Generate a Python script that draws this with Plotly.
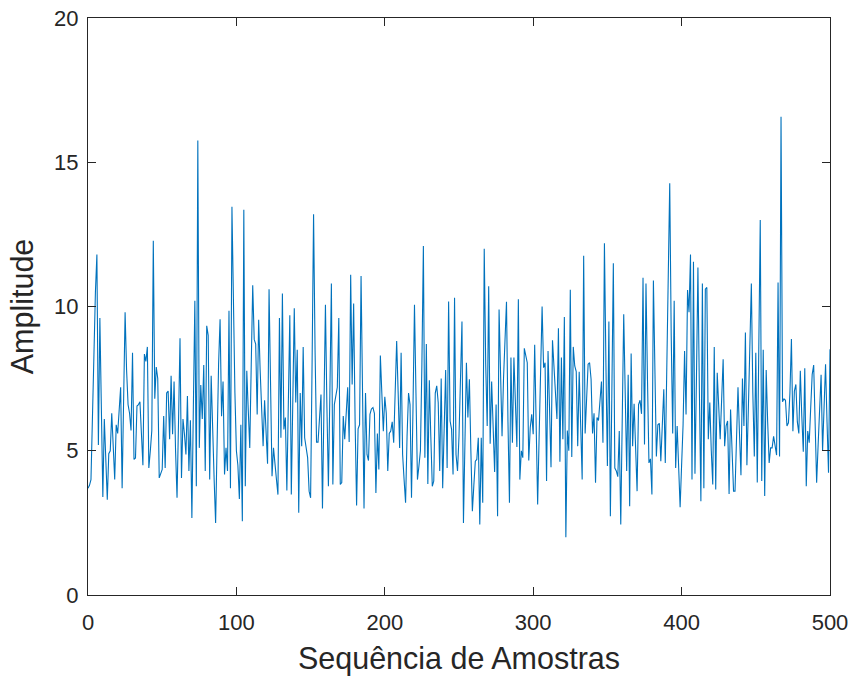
import plotly.graph_objects as go

# Amostras da sequência (índice 0..500) e respectivas amplitudes
amostras = list(range(0, 501))

amplitude = [
    # 0-40
    3.7, 3.8, 4.0, 6.5, 9.2, 10.5, 11.8, 5.2, 9.6, 6.5,
    3.4, 6.1, 4.6, 3.3, 4.9, 5.0, 6.3, 5.1, 4.0, 5.9,
    5.6, 6.4, 7.2, 3.7, 6.8, 9.8, 7.8, 6.6, 6.3, 5.7,
    8.4, 4.7, 4.75, 6.55, 6.6, 6.7, 5.6, 4.5, 8.35, 8.1,
    8.6,
    # 41-83
    4.4, 5.0, 5.7, 12.28, 6.8, 7.9, 7.5, 4.06, 4.2, 4.35,
    6.2, 4.4, 7.0, 7.07, 5.4, 7.6, 5.57, 7.4, 5.0, 3.37,
    6.0, 8.9, 4.06, 6.1, 5.57, 4.87, 6.9, 4.3, 6.06, 2.67,
    6.5, 10.2, 3.77, 15.75, 5.1, 7.28, 6.1, 7.97, 4.3, 9.33,
    9.0, 4.0, 7.6,
    # 84-125
    5.5, 4.0, 2.5, 6.0, 8.0, 9.56, 6.2, 7.4, 4.18, 5.1,
    4.3, 9.85, 3.7, 13.46, 10.0, 7.0, 5.0, 4.5, 3.33, 5.9,
    2.56, 13.35, 3.77, 7.77, 6.4, 5.1, 8.0, 10.74, 8.86, 8.7,
    6.26, 9.54, 7.8, 6.3, 5.16, 6.75, 5.6, 4.55, 10.6, 7.0,
    4.12, 5.1,
    # 126-169
    4.4, 4.0, 3.48, 9.6, 5.45, 10.45, 5.74, 6.15, 3.62, 6.5,
    9.7, 3.48, 6.5, 9.94, 6.67, 8.5, 2.85, 7.0, 5.16, 8.6,
    5.45, 5.1, 4.76, 3.6, 3.37, 8.0, 13.2, 8.5, 5.3, 5.3,
    6.2, 6.95, 3.0, 7.0, 10.06, 6.5, 3.77, 7.0, 10.8, 3.83,
    6.6, 6.9, 7.2, 9.6,
    # 170-211
    3.83, 3.9, 6.2, 5.4, 6.3, 7.2, 5.3, 11.1, 7.3, 10.1,
    6.0, 3.1, 5.76, 5.9, 11.06, 7.0, 3.0, 7.0, 4.87, 4.66,
    6.26, 6.45, 6.5, 6.3, 3.54, 5.6, 4.35, 8.3, 7.0, 5.68,
    6.87, 6.3, 4.3, 5.6, 5.68, 6.0, 5.28, 7.0, 8.8, 7.0,
    5.1, 8.4,
    # 212-253
    4.87, 4.0, 3.2, 5.5, 7.0, 6.6, 3.37, 6.5, 10.06, 7.0,
    4.0, 4.47, 5.0, 8.0, 12.1, 4.76, 8.7, 3.85, 7.44, 5.5,
    3.77, 3.95, 7.0, 7.25, 6.67, 4.3, 7.5, 3.7, 5.8, 7.8,
    4.4, 10.17, 6.03, 5.74, 4.18, 10.3, 4.87, 4.3, 5.5, 7.5,
    9.48, 2.5,
    # 254-296
    5.5, 8.05, 6.15, 7.48, 5.0, 2.9, 3.8, 4.64, 4.7, 5.45,
    2.44, 5.45, 3.2, 12.0, 8.0, 5.86, 10.7, 5.24, 7.4, 5.5,
    4.26, 6.6, 2.73, 9.9, 7.5, 5.5, 7.5, 9.0, 10.16, 6.0,
    3.2, 8.23, 5.28, 8.23, 6.5, 5.13, 10.25, 4.0, 5.0, 4.76,
    8.55, 8.3, 8.05,
    # 297-337
    4.66, 5.8, 6.26, 5.57, 8.67, 6.0, 3.14, 5.5, 8.0, 10.0,
    7.88, 8.05, 3.95, 8.46, 6.5, 4.43, 8.83, 7.8, 7.0, 6.1,
    9.25, 4.62, 8.23, 5.4, 9.64, 2.0, 5.7, 5.0, 10.58, 4.78,
    8.6, 7.94, 7.74, 5.16, 7.74, 6.0, 4.0, 11.76, 5.6, 6.8,
    8.0,
    # 338-380
    8.05, 7.48, 5.6, 6.3, 3.89, 6.15, 6.05, 6.8, 7.4, 5.28,
    12.19, 8.0, 4.47, 9.48, 2.73, 7.0, 11.5, 4.4, 4.3, 4.1,
    5.68, 2.44, 6.0, 9.73, 7.0, 4.3, 7.63, 3.08, 8.37, 5.16,
    6.63, 5.0, 3.6, 6.6, 6.75, 6.28, 11.0, 5.22, 10.8, 7.5,
    4.58, 4.72, 3.48,
    # 381-423
    10.9, 7.0, 4.8, 5.9, 5.95, 4.64, 6.0, 7.13, 4.58, 7.8,
    11.0, 14.27, 9.0, 5.6, 10.2, 4.4, 5.86, 4.5, 3.04, 4.5,
    5.9, 8.46, 6.26, 10.57, 9.8, 11.8, 4.0, 11.55, 4.2, 7.5,
    11.35, 7.0, 3.25, 10.8, 3.7, 10.6, 10.66, 5.4, 6.67, 5.0,
    3.83, 8.6, 3.66,
    # 424-465
    7.7, 6.5, 5.4, 6.8, 8.17, 5.16, 5.86, 6.03, 3.5, 6.43,
    5.0, 3.6, 3.6, 5.4, 7.2, 5.6, 4.15, 7.5, 5.86, 9.1,
    4.5, 6.5, 8.7, 10.8, 7.0, 4.8, 8.4, 3.9, 8.5, 13.0,
    3.95, 8.5, 3.43, 7.8, 6.0, 4.58, 5.1, 5.1, 5.5, 5.2,
    4.85, 10.83,
    # 466-500
    4.8, 16.58, 6.7, 6.8, 6.75, 5.86, 5.97, 7.0, 8.87, 5.68,
    7.07, 7.3, 6.0, 5.6, 7.77, 6.2, 4.97, 7.86, 3.77, 5.68,
    5.28, 6.5, 7.65, 7.97, 5.8, 3.89, 5.2, 6.4, 7.63, 5.0,
    6.5, 8.0, 6.0, 4.24, 8.52,
]

x_ticks = [0, 100, 200, 300, 400, 500]
y_ticks = [0, 5, 10, 15, 20]

eixo_cor = "#262626"
fonte = "Liberation Sans, Arial, Helvetica, sans-serif"

fig = go.Figure()
fig.add_trace(go.Scatter(
    x=amostras[:len(amplitude)],
    y=amplitude,
    mode="lines",
    line=dict(color="#0072BD", width=1.1),
    showlegend=False,
))

eixo_comum = dict(
    showline=True,
    linecolor=eixo_cor,
    linewidth=1,
    mirror="ticks",
    ticks="inside",
    ticklen=8,
    tickwidth=1,
    tickcolor=eixo_cor,
    showgrid=False,
    zeroline=False,
    automargin=False,
    tickfont=dict(family=fonte, size=22, color=eixo_cor),
)

fig.update_xaxes(
    range=[0, 500],
    tickvals=x_ticks,
    ticklabelstandoff=8,
    title=dict(text="Sequência de Amostras", font=dict(family=fonte, size=30.5, color=eixo_cor), standoff=13),
    **eixo_comum,
)
fig.update_yaxes(
    range=[0, 20],
    tickvals=y_ticks,
    ticklabelstandoff=4,
    title=dict(text="Amplitude", font=dict(family=fonte, size=30.5, color=eixo_cor), standoff=11),
    **eixo_comum,
)

fig.update_layout(
    width=852,
    height=679,
    margin=dict(l=88, r=22, t=18, b=84),
    paper_bgcolor="white",
    plot_bgcolor="white",
)

fig.write_html("out.html")
